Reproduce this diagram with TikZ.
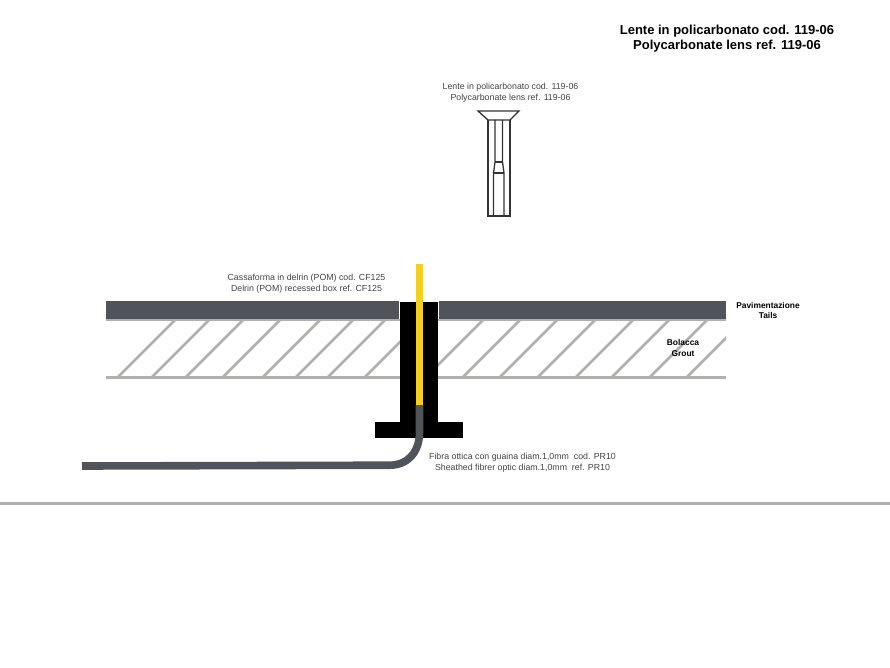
\documentclass[tikz,border=0pt]{standalone}
\usepackage{fontspec}
\setmainfont{Liberation Sans}
\definecolor{tailgray}{HTML}{50545A}
\definecolor{hatchgray}{HTML}{B0B1AF}
\definecolor{fibreyellow}{HTML}{F5CF1F}
\definecolor{notegray}{HTML}{444444}
\tikzset{
  hatchline/.style={draw=hatchgray, line width=2.6pt},
  lensline/.style={draw=black!80, line width=1.3pt, line join=miter},
  note/.style={align=center, text=notegray, font=\fontsize{8.8}{11}\selectfont, inner sep=0pt},
  boldnote/.style={align=center, font=\bfseries\fontsize{8.4}{10.6}\selectfont, inner sep=0pt},
}
\begin{document}
\begin{tikzpicture}  % ------ Sezione pavimento con lente ------
      [x=1pt, y=-1pt]
    \useasboundingbox (0,0) rectangle (890,668);
    \fill[white] (0,0) rectangle (890,668);
    % bolacca
    \begin{scope}
      \clip (106,320) rectangle (400,377);
      \foreach \b in {118,152,186,223,263,296,328,365}
        \draw[hatchline] (\b,377) -- ++(57,-57);
    \end{scope}
    \begin{scope}
      \clip (438,320) rectangle (726,377);
      \foreach \b in {426,463,500,538,576,612,650,687}
        \draw[hatchline] (\b,377) -- ++(57,-57);
    \end{scope}
    \draw[hatchline] (106,320) -- (400,320);
    \draw[hatchline] (438,320) -- (726,320);
    \draw[hatchline] (106,377.5) -- (726,377.5);
    % pavimentazione
    \fill[tailgray] (106,301) rectangle (399,319);
    \fill[tailgray] (439,301) rectangle (726,319);
    % cassaforma
    \fill[black] (400,302) rectangle (438,422);
    \fill[black] (375,422) rectangle (463,438);
    % fibra
    \fill[fibreyellow] (416,264) rectangle (423,406);
    \draw[tailgray, line width=7.6pt] (419.5,405) -- (419.5,432)
        .. controls (419.5,452) and (408,465) .. (390,465.2) -- (82,466);
    % lente
    \draw[lensline] (478,111) -- (519,111) -- (510,120) -- (488,120) -- cycle;
    \draw[lensline] (488,120) -- (488,216) -- (510,216) -- (510,120);
    \draw[lensline] (495,120) -- (495,162) -- (493.5,173) -- (493.5,216);
    \draw[lensline] (502.5,120) -- (502.5,162) -- (504,173) -- (504,216);
    \draw[lensline] (495,162) -- (502.5,162);
    \draw[lensline] (493.5,173) -- (504,173);
    % linea di base
    \draw[hatchgray, line width=3pt] (0,503) -- (890,503);
    % testi
    \node[align=center, inner sep=0pt, font=\bfseries\fontsize{13}{15.4}\selectfont] (title) at (727,38.5)
        {Lente in policarbonato cod. 119-06\\Polycarbonate lens ref. 119-06};
    \node[note] (lensnote) at (510.5,93) {Lente in policarbonato cod. 119-06\\Polycarbonate lens ref. 119-06};
    \node[note] (boxnote) at (306.5,284) {Cassaforma in delrin (POM) cod. CF125\\Delrin (POM) recessed box ref. CF125};
    \node[note] (fibrenote) at (522.5,463) {Fibra ottica con guaina diam.1,0mm\ \ cod. PR10\\Sheathed fibrer optic diam.1,0mm\ \ ref. PR10};
    \node[boldnote] (tails) at (768,310.5) {Pavimentazione\\Tails};
    \node[boldnote] (grout) at (683,348) {Bolacca\\Grout};
\end{tikzpicture}
\end{document}
